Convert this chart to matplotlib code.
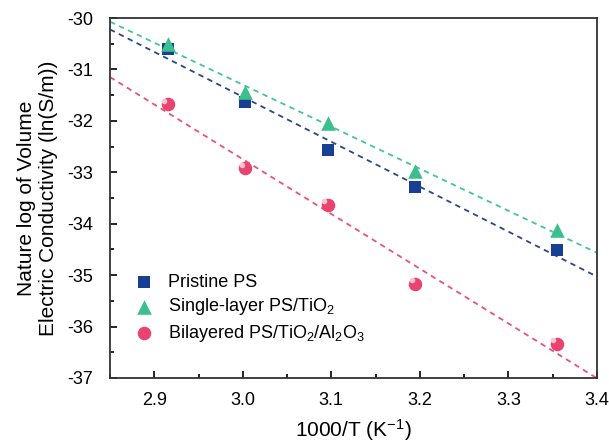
import matplotlib
matplotlib.use('Agg')
import matplotlib.pyplot as plt
import numpy as np

plt.rcParams['font.family'] = ['Liberation Sans', 'DejaVu Sans']
plt.rcParams['mathtext.default'] = 'regular'
plt.rcParams['axes.unicode_minus'] = False

# data
inv_t = [2.915, 3.003, 3.096, 3.195, 3.355]
pristine = [-30.60, -31.63, -32.57, -33.28, -34.51]
single = [-30.50, -31.43, -32.05, -32.98, -34.13]
bilayer = [-31.68, -32.92, -33.63, -35.17, -36.33]

labels = ['Pristine PS', 'Single-layer PS/TiO$_2$', 'Bilayered PS/TiO$_2$/Al$_2$O$_3$']
colors = ['#173f93', '#3cbf8e', '#e9446f']
line_colors = ['#2b4786', '#45c49a', '#e8527c']
markers = ['s', '^', 'o']
sizes = [75, 110, 95]

fig = plt.figure(figsize=(6.09, 4.47), dpi=100)
ax = fig.add_axes([0.1806, 0.1544, 0.7994, 0.8053])

xfit = np.array([2.85, 3.4])
for ys, c, lc, m, sz, lab in zip([pristine, single, bilayer], colors, line_colors, markers, sizes, labels):
    k, b = np.polyfit(inv_t, ys, 1)
    ax.plot(xfit, k * xfit + b, ls=(0, (3, 2.5)), color=lc, lw=1.3, zorder=1)
    ax.scatter(inv_t, ys, marker=m, s=sz, color=c, label=lab, zorder=3, linewidths=0)

# highlight on the spheres
ax.scatter(np.array(inv_t) - 0.004, np.array(bilayer) + 0.07, marker='o', s=16,
           color='#ffc2cf', zorder=4, linewidths=0)

ax.set_xlim(2.85, 3.4)
ax.set_ylim(-37, -30)
ax.set_xticks([2.9, 3.0, 3.1, 3.2, 3.3, 3.4])
ax.set_xticks(np.arange(2.85, 3.41, 0.05), minor=True)
ax.set_yticks(range(-37, -29))
ax.set_yticks(np.arange(-36.5, -30, 1.0), minor=True)
ax.xaxis.set_major_formatter(matplotlib.ticker.FormatStrFormatter('%.1f'))
ax.tick_params(which='both', direction='in', labelsize=13, width=1.2)
ax.tick_params(which='major', length=5)
ax.tick_params(axis='x', which='major', pad=10)
ax.tick_params(axis='y', which='major', pad=12)
ax.tick_params(which='minor', length=3)
for s in ax.spines.values():
    s.set_linewidth(1.3)
    s.set_color('#333333')

ax.set_xlabel('1000/T (K$^{-1}$)', fontsize=15, labelpad=6)
ax.set_ylabel('Nature log of Volume\nElectric Conductivity (ln(S/m))', fontsize=15,
              labelpad=7, linespacing=1.2)

ax.legend(loc='lower left', frameon=False, fontsize=13, handletextpad=0.3,
          bbox_to_anchor=(0.0, 0.05), borderaxespad=0.5, labelspacing=0.3)

fig.savefig('out.png', dpi=100)
